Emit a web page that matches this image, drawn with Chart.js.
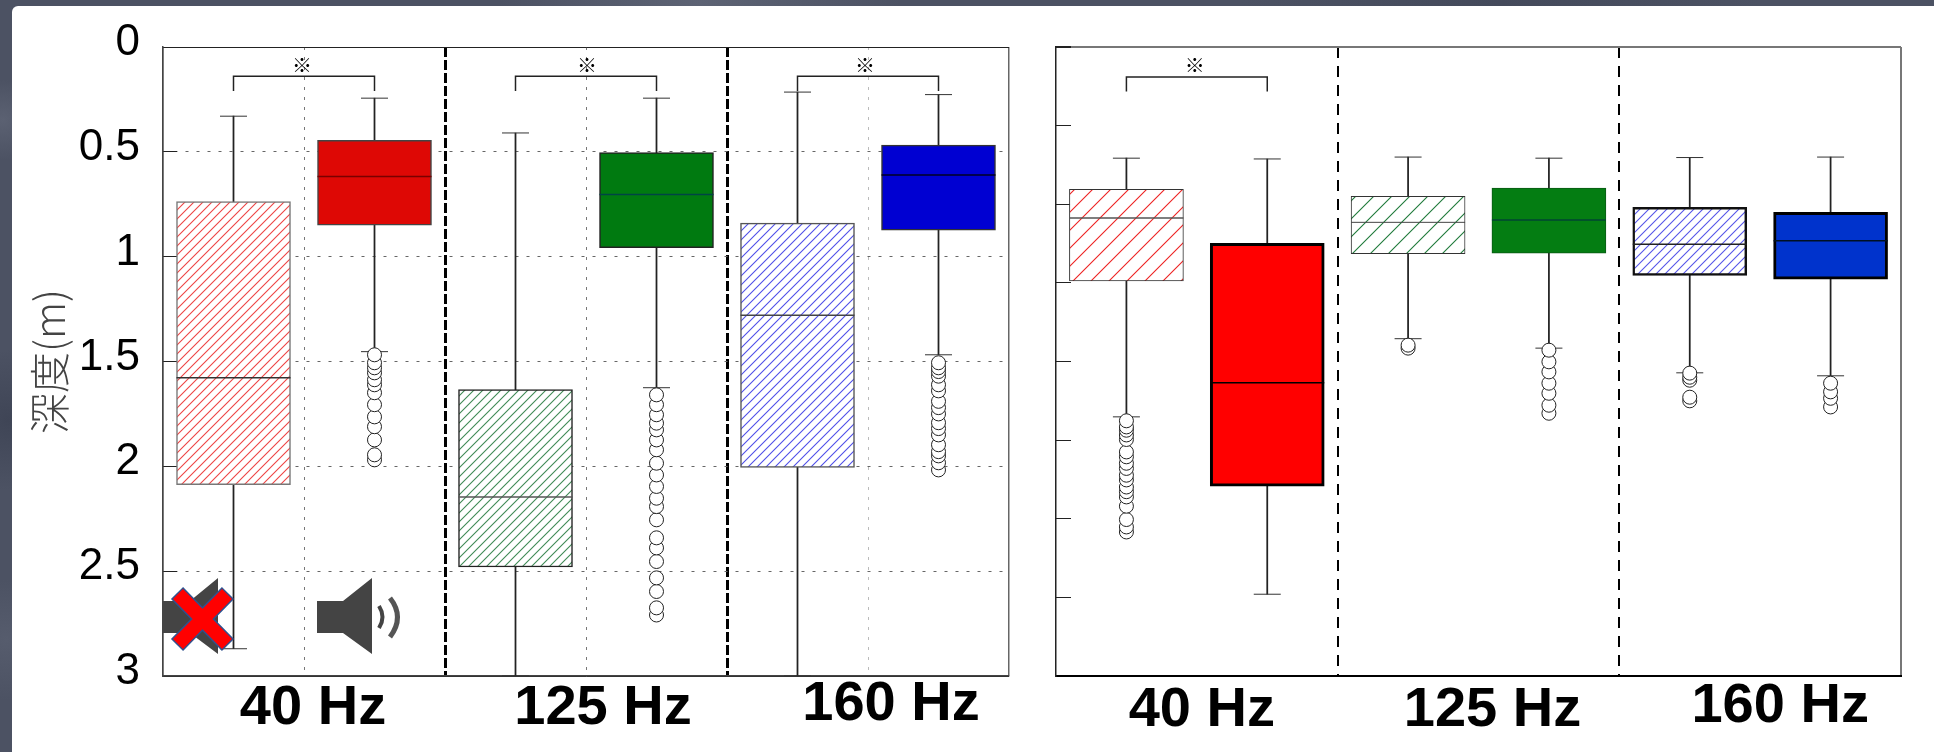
<!DOCTYPE html>
<html>
<head>
<meta charset="utf-8">
<title>深度</title>
<script src="https://cdn.jsdelivr.net/npm/chart.js@4/dist/chart.umd.min.js"></script>
<style>
  html, body { margin: 0; padding: 0; width: 1934px; height: 752px; overflow: hidden; }
  body {
    background:
      radial-gradient(circle at 3px 120px, #5b6172 0, transparent 40px),
      radial-gradient(circle at 8px 420px, #3f4556 0, transparent 70px),
      radial-gradient(circle at 6px 640px, #565c6d 0, transparent 60px),
      radial-gradient(ellipse at 700px 2px, #5d6374 0, transparent 200px),
      radial-gradient(ellipse at 1500px 3px, #444a5b 0, transparent 260px),
      #4c5263;
  }
  #panel { position: absolute; left: 12px; top: 6px; right: 0; bottom: 0; background: #fff; border-top-left-radius: 6px; }
  canvas { position: absolute; top: 0; }
  #leftChart { left: 0; }
  #rightChart { left: 1030px; }
  #icons { position: absolute; left: 0; top: 0; }
</style>
</head>
<body>
<div id="panel"></div>
<canvas id="leftChart" width="1020" height="752"></canvas>
<canvas id="rightChart" width="880" height="752"></canvas>
<svg id="icons" width="420" height="752">
  <path d="M163 601H190L218 578V654L190 633H163Z" fill="#444"/>
  <path d="M317 601H343L372 578V654L343 633H317Z" fill="#444"/>
  <path d="M379 606Q386 617 379 628" fill="none" stroke="#444" stroke-width="4"/>
  <path d="M390 598Q405 617 390 637" fill="none" stroke="#555" stroke-width="5"/>
  <path d="M177 593L228 645M228 593L177 645" stroke="#2f528f" stroke-width="17"/>
  <path d="M178 594L227 644M227 594L178 644" stroke="#ff0000" stroke-width="14"/>
</svg>
<script>
const categories = ['40 Hz off', '40 Hz on', '125 Hz off', '125 Hz on', '160 Hz off', '160 Hz on'];
const groupLabels = ['40 Hz', '125 Hz', '160 Hz'];
const leftTickLabels = ['0', '0.5', '1', '1.5', '2', '2.5', '3'];

// left panel, depth in m
const leftWhiskerTop = [0.33, 0.244, 0.41, 0.244, 0.215, 0.227];
const leftQ1 = [0.737, 0.445, 1.634, 0.503, 0.84, 0.468];
const leftMedian = [1.578, 0.618, 2.146, 0.704, 1.28, 0.61];
const leftQ3 = [2.087, 0.85, 2.48, 0.957, 2.005, 0.874];
const leftWhiskerBottom = [2.87, 1.453, 3, 1.625, 3, 1.468];
const leftOutliers40 = [1.969, 1.945, 1.874, 1.811, 1.764, 1.706, 1.649, 1.611, 1.587, 1.554, 1.53, 1.506, 1.468];
const leftOutliers125 = [2.709, 2.675, 2.597, 2.532, 2.454, 2.389, 2.341, 2.255, 2.192, 2.152, 2.096, 2.041, 1.985, 1.921, 1.874, 1.826, 1.794, 1.754, 1.706, 1.659];
const leftOutliers160 = [2.017, 1.983, 1.95, 1.93, 1.897, 1.85, 1.82, 1.792, 1.75, 1.72, 1.69, 1.64, 1.611, 1.57, 1.548, 1.53, 1.506];

// right panel
const rightWhiskerTop = [0.707, 0.712, 0.70, 0.707, 0.703, 0.70];
const rightQ1 = [0.905, 1.248, 0.949, 0.897, 1.02, 1.051];
const rightMedian = [1.087, 2.135, 1.115, 1.10, 1.255, 1.232];
const rightQ3 = [1.488, 2.793, 1.314, 1.311, 1.452, 1.476];
const rightWhiskerBottom = [2.352, 3.48, 1.855, 1.915, 2.072, 2.091];
const rightOutliers40 = [3.084, 3.052, 3.005, 2.92, 2.861, 2.828, 2.798, 2.753, 2.723, 2.68, 2.647, 2.606, 2.575, 2.496, 2.467, 2.437, 2.416, 2.377];
const rightOutliers125off = [1.915, 1.896];
const rightOutliers125 = [2.329, 2.278, 2.202, 2.138, 2.066, 2.002, 1.928];
const rightOutliers160off = [2.25, 2.227, 2.119, 2.10, 2.074];
const rightOutliers160 = [2.289, 2.234, 2.193, 2.138];

function hatch(color, size) {
  const c = document.createElement('canvas');
  c.width = size;
  c.height = size;
  const g = c.getContext('2d');
  g.fillStyle = '#fff';
  g.fillRect(0, 0, size, size);
  g.strokeStyle = color;
  g.lineWidth = 1.1;
  g.beginPath();
  g.moveTo(-1, size + 1);
  g.lineTo(size + 1, -1);
  g.moveTo(-1, 1);
  g.lineTo(1, -1);
  g.moveTo(size - 1, size + 1);
  g.lineTo(size + 1, size - 1);
  g.stroke();
  return g.createPattern(c, 'repeat');
}

function pairs(values) {
  return values.map((v, i) => ({x: categories[i], y: v}));
}

function outlierSet(category, values) {
  return {
    type: 'line',
    showLine: false,
    order: 1,
    data: values.map(v => ({x: category, y: v})),
    pointStyle: 'circle',
    pointRadius: 7,
    pointBackgroundColor: '#fff',
    pointBorderColor: '#222',
    pointBorderWidth: 1
  };
}

function bracketSet(from, to, low, high) {
  return {
    type: 'line',
    order: 1,
    data: [{x: from, y: low}, {x: from, y: high}, {x: to, y: high}, {x: to, y: low}],
    borderColor: '#222',
    borderWidth: 1.5,
    tension: 0,
    pointRadius: 0
  };
}

function boxSets(s) {
  const lineMark = (values, radius, color, width, order) => ({
    type: 'line',
    showLine: false,
    order: order,
    data: pairs(values),
    pointStyle: 'line',
    pointRadius: radius,
    pointBorderColor: color,
    pointBorderWidth: width
  });
  return [
    {
      type: 'bar',
      grouped: false,
      order: 5,
      data: s.whiskerTop.map((v, i) => [v, s.whiskerBottom[i]]),
      backgroundColor: s.whiskerColor,
      barThickness: 1.1
    },
    {
      type: 'bar',
      grouped: false,
      order: 4,
      data: s.q1.map((v, i) => [v, s.q3[i]]),
      backgroundColor: s.fills,
      borderColor: s.borders,
      borderWidth: s.borderWidths,
      borderSkipped: false,
      barThickness: 114
    },
    lineMark(s.median, 57, s.medianColors, s.medianWidths, 3),
    lineMark(s.whiskerTop, 13.5, '#333', 1, 2),
    lineMark(s.whiskerBottom, 13.5, '#333', 1, 2)
  ];
}

// group names and ※ marks are placed from the x scale
function panelText(labelOffsets, labelBases, markOffsets, marks) {
  return {
    id: 'panelText',
    afterDraw(chart) {
      const ctx = chart.ctx;
      const x = chart.scales.x;
      ctx.save();
      ctx.textAlign = 'center';
      ctx.fillStyle = '#000';
      ctx.font = 'bold 56px "Liberation Sans"';
      groupLabels.forEach((label, i) => {
        const mid = (x.getPixelForValue(i * 2) + x.getPixelForValue(i * 2 + 1)) / 2;
        ctx.fillText(label, mid + labelOffsets[i], labelBases[i]);
      });
      ctx.font = '20px "Noto Sans CJK JP"';
      ctx.textBaseline = 'middle';
      marks.forEach((g, i) => {
        const mid = (x.getPixelForValue(g * 2) + x.getPixelForValue(g * 2 + 1)) / 2;
        ctx.fillText('※', mid + markOffsets[i], 65);
      });
      ctx.restore();
    }
  };
}

const red = '#de0805';

new Chart('leftChart', {
  data: {
    labels: categories,
    datasets: [
      ...boxSets({
        whiskerTop: leftWhiskerTop,
        q1: leftQ1,
        median: leftMedian,
        q3: leftQ3,
        whiskerBottom: leftWhiskerBottom,
        whiskerColor: '#222',
        fills: [hatch('#ee4444', 9), red, hatch('#3f8a55', 9), '#007a10', hatch('#4f4fe8', 9), '#0000d2'],
        borders: ['#777', '#444', '#222', '#222', '#555', '#333'],
        borderWidths: 1.5,
        medianColors: ['#333', '#7a0000', '#555', '#044', '#444', '#002'],
        medianWidths: 1.5
      }),
      outlierSet(categories[1], leftOutliers40),
      outlierSet(categories[3], leftOutliers125),
      outlierSet(categories[5], leftOutliers160),
      bracketSet(categories[0], categories[1], 0.21, 0.14),
      bracketSet(categories[2], categories[3], 0.21, 0.14),
      bracketSet(categories[4], categories[5], 0.21, 0.14)
    ]
  },
  options: {
    responsive: false,
    animation: false,
    layout: {autoPadding: false, padding: {left: 0, top: 47, right: 11, bottom: 0}},
    plugins: {legend: {display: false}, tooltip: {enabled: false}},
    scales: {
      x: {
        offset: true,
        afterFit(scale) { scale.height = 76; },
        ticks: {display: false},
        border: {
          color: '#444',
          width: 1.5,
          dash: ctx => (ctx.index === 2 || ctx.index === 4 ? [10, 3] : ctx.index === undefined || ctx.index === 0 ? [] : [3, 7])
        },
        grid: {
          offset: true,
          drawTicks: false,
          color: ctx => (ctx.index === 2 || ctx.index === 4 ? '#000' : ctx.index === undefined || ctx.index === 0 ? '#666' : ctx.index === 5 ? '#bbb' : '#777'),
          lineWidth: ctx => (ctx.index === 2 || ctx.index === 4 ? 3 : ctx.index === undefined || ctx.index === 0 ? 1.5 : 1)
        }
      },
      y: {
        reverse: true,
        min: 0,
        max: 3,
        afterFit(scale) {
          scale.width = 163;
          scale.paddingTop = 0;
          scale.paddingBottom = 0;
        },
        title: {
          display: true,
          text: '深度(m)',
          color: '#444',
          font: {family: '"Noto Sans CJK JP"', size: 41, weight: 300},
          padding: {top: 25, bottom: 0}
        },
        ticks: {
          stepSize: 0.5,
          color: '#000',
          padding: 37,
          labelOffset: -4,
          font: {family: '"Liberation Sans"', size: 44},
          callback: v => leftTickLabels[Math.round(v * 2)]
        },
        border: {
          color: '#444',
          width: 1.5,
          dash: ctx => (ctx.index === 0 || ctx.index === 6 ? [] : [3, 8])
        },
        grid: {
          tickLength: -14,
          tickColor: '#222',
          color: ctx => (ctx.index === 0 || ctx.index === 6 ? '#222' : '#666'),
          lineWidth: 1
        }
      }
    }
  },
  plugins: [panelText([9, 17, 23], [724, 724, 720], [-2, 1, -3], [0, 1, 2])]
});

new Chart('rightChart', {
  data: {
    labels: categories,
    datasets: [
      ...boxSets({
        whiskerTop: rightWhiskerTop,
        q1: rightQ1,
        median: rightMedian,
        q3: rightQ3,
        whiskerBottom: rightWhiskerBottom,
        whiskerColor: '#222',
        fills: [hatch('#ee2222', 18), '#ff0000', hatch('#1f7a3a', 18), '#047d12', hatch('#5555e8', 9), '#0033cc'],
        borders: ['#333', '#000', '#333', '#0a5a14', '#111', '#000'],
        borderWidths: [1, 3, 1, 1, 2.5, 3],
        medianColors: ['#555', '#000', '#444', '#043', '#222', '#012'],
        medianWidths: [1.5, 1.5, 1, 1.5, 1.5, 1.5]
      }),
      outlierSet(categories[0], rightOutliers40),
      outlierSet(categories[2], rightOutliers125off),
      outlierSet(categories[3], rightOutliers125),
      outlierSet(categories[4], rightOutliers160off),
      outlierSet(categories[5], rightOutliers160),
      bracketSet(categories[0], categories[1], 0.283, 0.19)
    ]
  },
  options: {
    responsive: false,
    animation: false,
    layout: {autoPadding: false, padding: {left: 0, top: 47, right: 9, bottom: 0}},
    plugins: {legend: {display: false}, tooltip: {enabled: false}},
    scales: {
      x: {
        offset: true,
        afterFit(scale) { scale.height = 76; },
        ticks: {display: false},
        border: {
          color: '#000',
          width: 2,
          dash: ctx => (ctx.index === 2 || ctx.index === 4 ? [11, 8] : [])
        },
        grid: {
          offset: true,
          drawTicks: false,
          color: ctx => (ctx.index === 2 || ctx.index === 4 ? '#000' : ctx.index === undefined ? '#777' : 'rgba(0,0,0,0)'),
          lineWidth: 2
        }
      },
      y: {
        reverse: true,
        min: 0,
        max: 4,
        afterFit(scale) { scale.width = 26; },
        ticks: {display: false, stepSize: 0.5},
        border: {color: '#222', width: 1.5},
        grid: {
          tickLength: -15,
          tickColor: '#222',
          color: ctx => (ctx.index === 8 ? '#777' : ctx.index === 0 ? '#000' : 'rgba(0,0,0,0)'),
          lineWidth: ctx => (ctx.index === 0 || ctx.index === 8 ? 2 : 1)
        }
      }
    }
  },
  plugins: [panelText([5, 14, 20], [726, 726, 722], [-2], [0])]
});
</script>
</body>
</html>
